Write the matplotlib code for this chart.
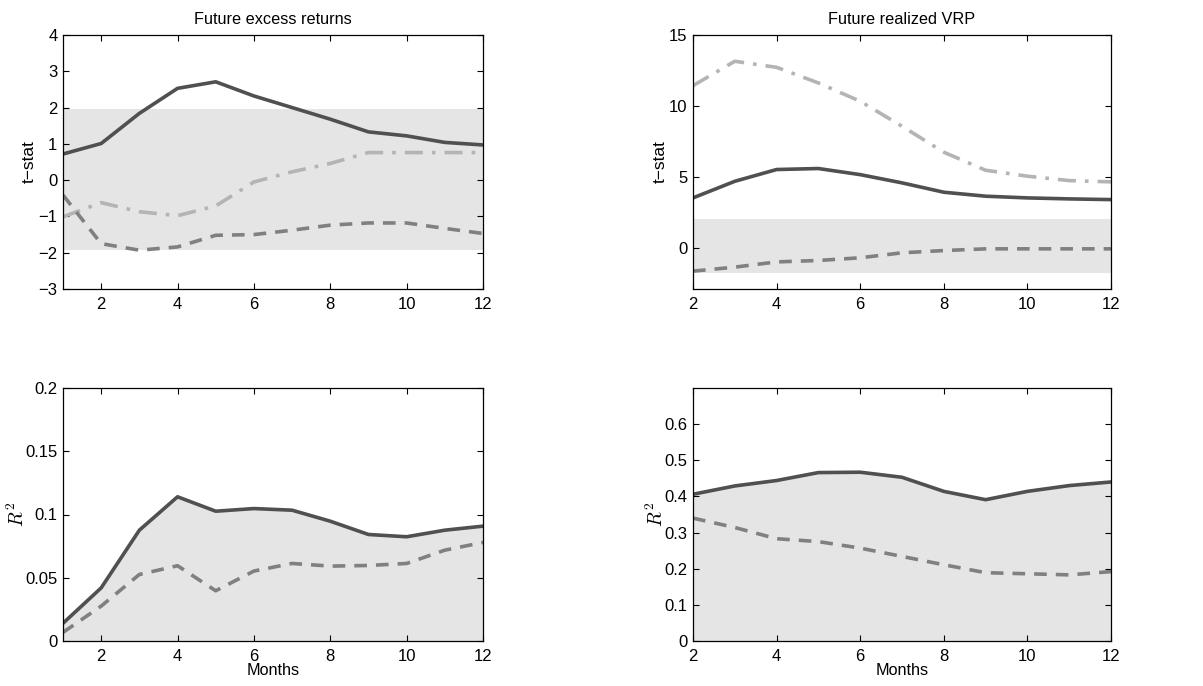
import matplotlib
matplotlib.use("Agg")
import matplotlib.pyplot as plt

plt.rcParams['font.family'] = ['Liberation Sans', 'DejaVu Sans']
plt.rcParams['mathtext.fontset'] = 'cm'

# ---- data ----
months_l = [1, 2, 3, 4, 5, 6, 7, 8, 9, 10, 11, 12]
months_r = [2, 3, 4, 5, 6, 7, 8, 9, 10, 11, 12]

ret_t_solid = [0.72, 1.01, 1.84, 2.53, 2.71, 2.32, 2.00, 1.68, 1.33, 1.22, 1.04, 0.97]
ret_t_dashdot = [-1.01, -0.62, -0.87, -0.98, -0.71, -0.05, 0.23, 0.46, 0.76, 0.76, 0.76, 0.76]
ret_t_dashed = [-0.41, -1.75, -1.93, -1.84, -1.52, -1.50, -1.38, -1.24, -1.18, -1.18, -1.33, -1.47]

vrp_t_solid = [3.52, 4.69, 5.52, 5.59, 5.16, 4.58, 3.92, 3.64, 3.52, 3.45, 3.40]
vrp_t_dashdot = [11.43, 13.15, 12.72, 11.62, 10.33, 8.57, 6.74, 5.47, 5.05, 4.74, 4.65]
vrp_t_dashed = [-1.64, -1.36, -0.99, -0.89, -0.70, -0.35, -0.19, -0.07, -0.07, -0.07, -0.07]

ret_r2_solid = [0.014, 0.042, 0.0876, 0.114, 0.1026, 0.1047, 0.1034, 0.0947, 0.0842, 0.0824, 0.0876, 0.0908]
ret_r2_dashed = [0.0068, 0.0276, 0.0526, 0.0595, 0.0397, 0.0553, 0.0613, 0.0592, 0.0597, 0.0613, 0.0718, 0.0779]

vrp_r2_solid = [0.406, 0.429, 0.444, 0.466, 0.467, 0.453, 0.414, 0.391, 0.414, 0.430, 0.440]
vrp_r2_dashed = [0.340, 0.314, 0.283, 0.275, 0.257, 0.234, 0.211, 0.189, 0.186, 0.183, 0.192]

titles = ["Future excess returns", "Future realized VRP"]
xticks = [2, 4, 6, 8, 10, 12]

# ---- styles ----
c_solid = '#505050'
c_dashed = '#808080'
c_dashdot = '#b4b4b4'
c_band = '#e5e5e5'
lw = 2.6
fs = 12
fs_lab = 11.7
fs_ylab = 12.5
fs_title = 11.7

fig = plt.figure(figsize=(12.03, 6.86), dpi=100)
W, H = 1203, 686

def add_ax(l, r, t, b):
    return fig.add_axes([l / W, 1 - b / H, (r - l) / W, (b - t) / H])

ax1 = add_ax(63, 483, 35, 289)
ax2 = add_ax(693, 1111, 35, 289)
ax3 = add_ax(63, 483, 388, 641)
ax4 = add_ax(693, 1111, 388, 641)

def style(ax):
    ax.tick_params(direction='in', top=True, right=True, labelsize=fs, length=4, width=0.8, pad=4)
    ax.tick_params(axis='x', pad=6)
    for s in ax.spines.values():
        s.set_linewidth(0.9)
    ax.set_xticks(xticks)

# top-left
ax1.axhspan(-1.93, 1.96, color=c_band, lw=0, zorder=0)
ax1.plot(months_l, ret_t_solid, color=c_solid, lw=lw, solid_capstyle='butt')
ax1.plot(months_l, ret_t_dashdot, color=c_dashdot, lw=lw, dashes=(5, 2.5, 1, 2.5))
ax1.plot(months_l, ret_t_dashed, color=c_dashed, lw=lw, dashes=(3.5, 2.5))
ax1.set_xlim(1, 12)
ax1.set_ylim(-3, 4)
ax1.set_yticks(range(-3, 5))
ax1.set_yticklabels(['\u22123', '\u22122', '\u22121', '0', '1', '2', '3', '4'])
ax1.set_ylabel('t\u2212stat', fontsize=fs_ylab, labelpad=1)
ax1.set_title(titles[0], fontsize=fs_title, pad=8)
style(ax1)

# top-right
ax2.axhspan(-1.8, 2.0, color=c_band, lw=0, zorder=0)
ax2.plot(months_r, vrp_t_solid, color=c_solid, lw=lw)
ax2.plot(months_r, vrp_t_dashdot, color=c_dashdot, lw=lw, dashes=(5, 2.5, 1, 2.5))
ax2.plot(months_r, vrp_t_dashed, color=c_dashed, lw=lw, dashes=(3.5, 2.5))
ax2.set_xlim(2, 12)
ax2.set_ylim(-2.9, 15)
ax2.set_yticks([0, 5, 10, 15])
ax2.set_ylabel('t\u2212stat', fontsize=fs_ylab, labelpad=1)
ax2.set_title(titles[1], fontsize=fs_title, pad=8)
style(ax2)

# bottom-left
ax3.fill_between(months_l, 0, ret_r2_solid, color=c_band, lw=0, zorder=0)
ax3.plot(months_l, ret_r2_solid, color=c_solid, lw=lw)
ax3.plot(months_l, ret_r2_dashed, color=c_dashed, lw=lw, dashes=(3.5, 2.5))
ax3.set_xlim(1, 12)
ax3.set_ylim(0, 0.2)
ax3.set_yticks([0, 0.05, 0.1, 0.15, 0.2])
ax3.set_yticklabels(['0', '0.05', '0.1', '0.15', '0.2'])
ax3.set_ylabel('$R^2$', fontsize=14, labelpad=-2)
ax3.set_xlabel('Months', fontsize=fs_lab, labelpad=-1)
style(ax3)

# bottom-right
ax4.fill_between(months_r, 0, vrp_r2_solid, color=c_band, lw=0, zorder=0)
ax4.plot(months_r, vrp_r2_solid, color=c_solid, lw=lw)
ax4.plot(months_r, vrp_r2_dashed, color=c_dashed, lw=lw, dashes=(3.5, 2.5))
ax4.set_xlim(2, 12)
ax4.set_ylim(0, 0.7)
ax4.set_yticks([0, 0.1, 0.2, 0.3, 0.4, 0.5, 0.6])
ax4.set_yticklabels(['0', '0.1', '0.2', '0.3', '0.4', '0.5', '0.6'])
ax4.set_ylabel('$R^2$', fontsize=14, labelpad=-2)
ax4.set_xlabel('Months', fontsize=fs_lab, labelpad=-1)
style(ax4)

fig.savefig('out.png', dpi=100)
